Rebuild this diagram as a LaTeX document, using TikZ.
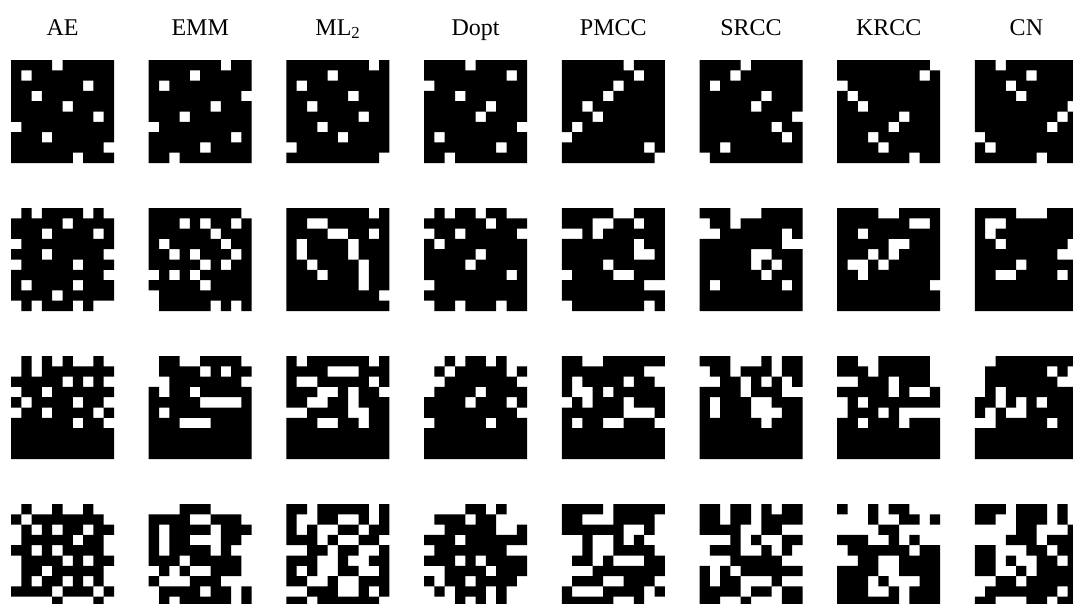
\documentclass[tikz,border=0pt]{standalone}
\usepackage{fontspec}
\setmainfont{Liberation Serif}
\newcount\pcol \newcount\prow
\def\pacc{}
\def\prowparse#1{\ifx#1\relax\else
  \if#1x\edef\pacc{\pacc (\the\pcol,-\the\prow) rectangle ++(1,-1)}\fi
  \advance\pcol by 1
  \expandafter\prowparse\fi}
\def\R#1{\pcol=0 \prowparse#1\relax\advance\prow by 1 }
\newcommand\pimg[3]{\prow=0 \def\pacc{}#3%
  \edef\ptmp{\noexpand\fill[pixblack,shift={(#1pt,-#2pt)},x=10.3pt,y=10.3pt] \pacc;}\ptmp}
\tikzset{pixblack/.style={fill=black}, ttl/.style={anchor=base, inner sep=0pt, font=\fontsize{24}{28}\selectfont}}
\begin{document}
\begin{tikzpicture}
\useasboundingbox (0,0) rectangle (1073pt,-603pt);
\fill[white] (0,0) rectangle (1073pt,-603pt);
\clip (0,0) rectangle (1073pt,-603pt);
% titles
\node[ttl] (tAE) at (62.5pt,-35pt) {AE};
\node[ttl] (tEMM) at (200.2pt,-35pt) {EMM};
\node[ttl] (tML) at (337.9pt,-35pt) {ML\textsubscript{2}};
\node[ttl] (tDopt) at (475.6pt,-35pt) {Dopt};
\node[ttl] (tPMCC) at (613.3pt,-35pt) {PMCC};
\node[ttl] (tSRCC) at (751pt,-35pt) {SRCC};
\node[ttl] (tKRCC) at (888.7pt,-35pt) {KRCC};
\node[ttl] (tCN) at (1026.4pt,-35pt) {CN};
% ---------------- row 1
\pimg{11}{60}{\R{xxxx.xxxxx}\R{x.xxxxxxxx}\R{xxxxxxx.xx}\R{xx.xxxxxxx}\R{xxxxx.xxxx}\R{xxxxxxxx.x}\R{.xxxxxxxxx}\R{xxx.xxxxxx}\R{xxxxxxxxx.}\R{xxxxxx.xxx}}
\pimg{148.7}{60}{\R{xxxxxxx.xx}\R{xxxx.xxxxx}\R{x.xxxxxxxx}\R{xxxxxxxxx.}\R{xxxxxx.xxx}\R{xxx.xxxxxx}\R{.xxxxxxxxx}\R{xxxxxxxx.x}\R{xxxxx.xxxx}\R{xx.xxxxxxx}}
\pimg{286.4}{60}{\R{xxxxxxxx.x}\R{xxxx.xxxxx}\R{x.xxxxxxxx}\R{xxxxxx.xxx}\R{xx.xxxxxxx}\R{xxxxxxx.xx}\R{xxx.xxxxxx}\R{xxxxx.xxxx}\R{.xxxxxxxxx}\R{xxxxxxxxx.}}
\pimg{424.1}{60}{\R{xxxx.xxxxx}\R{xxxxxxxx.x}\R{.xxxxxxxxx}\R{xxx.xxxxxx}\R{xxxxxx.xxx}\R{xxxxx.xxxx}\R{xxxxxxxxx.}\R{x.xxxxxxxx}\R{xxxxxxx.xx}\R{xx.xxxxxxx}}
\pimg{561.8}{60}{\R{xxxxxx.xxx}\R{xxxxxxx.xx}\R{xxxxx.xxxx}\R{xxxx.xxxxx}\R{xx.xxxxxxx}\R{xxx.xxxxxx}\R{x.xxxxxxxx}\R{.xxxxxxxxx}\R{xxxxxxxx.x}\R{xxxxxxxxx.}}
\pimg{699.5}{60}{\R{xxxx.xxxxx}\R{xxx.xxxxxx}\R{x.xxxxxxxx}\R{xxxxxx.xxx}\R{xxxxx.xxxx}\R{xxxxxxxxx.}\R{xxxxxxx.xx}\R{xxxxxxxx.x}\R{xx.xxxxxxx}\R{.xxxxxxxxx}}
\pimg{837.2}{60}{\R{xxxxxxxxx.}\R{xxxxxxxx.x}\R{.xxxxxxxxx}\R{x.xxxxxxxx}\R{xx.xxxxxxx}\R{xxxxxx.xxx}\R{xxxxx.xxxx}\R{xxx.xxxxxx}\R{xxxx.xxxxx}\R{xxxxxxx.xx}}
\pimg{974.9}{60}{\R{xx.xxxxxxx}\R{xxxxx.xxxx}\R{xxx.xxxxxx}\R{xxxx.xxxxx}\R{xxxxxxxxx.}\R{xxxxxxxx.x}\R{xxxxxxx.xx}\R{.xxxxxxxxx}\R{x.xxxxxxxx}\R{xxxxxx.xxx}}
% ---------------- row 2
\pimg{11}{208}{\R{.x.xxxx.x.}\R{xxxxx.xxxx}\R{xxx.xxxx.x}\R{.xxxxxxxxx}\R{xxx.xxxxx.}\R{.xxxxx.xxx}\R{xxxxxxxxx.}\R{x.xxxx.xxx}\R{xxxx.xxxxx}\R{.x.xxx.x..}}
\pimg{148.7}{208}{\R{xxxxxxxxx.}\R{xxx.x.xx.x}\R{xxxxxx.xxx}\R{x.xxxxx.xx}\R{xx.x.xxx.x}\R{xxxxx.x.xx}\R{.x.x.xxxxx}\R{xxxxx.xxxx}\R{.xxxxxxxxx}\R{.xxxxx.x.x}}
\pimg{286.4}{208}{\R{xxxxxxxx.x}\R{xx..xxxxxx}\R{xxxx..xx.x}\R{x.xxxx.xxx}\R{x.xxxx.xxx}\R{xx.xxxx.xx}\R{xxx.xxx.xx}\R{xxxxxxx.xx}\R{xxxxxxxxx.}\R{xxxxxxxxxx}}
\pimg{424.1}{208}{\R{.x.xx.xx..}\R{xxxxxx.xxx}\R{.xx.xxxxx.}\R{x.xxxxxxxx}\R{xxxxx.xxxx}\R{xxxx.xxxxx}\R{xxxxxxxx.x}\R{.xxxxxxxxx}\R{xxxxxxxxxx}\R{.xx.xxx.xx}}
\pimg{561.8}{208}{\R{xxxxx..xxx}\R{xxx..xx.xx}\R{..x.xxxxxx}\R{xxxxxxx.xx}\R{xxxxxxx..x}\R{xxxx.xxxxx}\R{.xxxx..xxx}\R{xxxxxxxx..}\R{xxxxxxxxxx}\R{.xxxxxxx.x}}
\pimg{699.5}{208}{\R{xxx...xxxx}\R{.xx.xxxxxx}\R{..xxxxxx.x}\R{xxxxxxxx..}\R{xxxxx..xxx}\R{xxxxx.x.xx}\R{xxxxxx.xxx}\R{x.xxxxxx.x}\R{xxxxxxxxxx}\R{xxxxxxxxxx}}
\pimg{837.2}{208}{\R{xxxx..xxxx}\R{xxxxxxx..x}\R{xx.xxxxxxx}\R{xxxxx..xxx}\R{xxx.x.xxxx}\R{x..x.xxxxx}\R{xx.xxxxxxx}\R{xxxxxxxxx.}\R{xxxxxxxxxx}\R{xxxxxxxxxx}}
\pimg{974.9}{208}{\R{xxxx...xxx}\R{x..xxxxxxx}\R{x.xxxxxxxx}\R{xx.xxxxxx.}\R{xxxxxxxx..}\R{xxxx.xxxxx}\R{xx..xxxx.x}\R{xxxxxxxxxx}\R{xxxxxxxxxx}\R{xxxxxxxxxx}}
% ---------------- row 3
\pimg{11}{356}{\R{.x.x.x..x.}\R{.x.xxxxxxx}\R{xxxxx.x.x.}\R{.xx.xxxxxx}\R{x.xxxx.xx.}\R{.xx.xxxx.x}\R{xxxxxx.xx.}\R{xxxxxxxxxx}\R{xxxxxxxxxx}\R{xxxxxxxxxx}}
\pimg{148.7}{356}{\R{.xx..xxxx.}\R{.xxxx.x.xx}\R{..xxxxxxx.}\R{x.xx.xxxxx}\R{xxxxx....x}\R{x.xxxxxxxx}\R{xxx...xxxx}\R{xxxxxxxxxx}\R{xxxxxxxxxx}\R{xxxxxxxxxx}}
\pimg{286.4}{356}{\R{x.xxxxxx.x}\R{xxxx...xxx}\R{x..xxxxx.x}\R{xxx..x.xx.}\R{xx..xx.xxx}\R{..xxxx..xx}\R{xxx..xx.xx}\R{xxxxxxxxxx}\R{xxxxxxxxxx}\R{xxxxxxxxxx}}
\pimg{424.1}{356}{\R{..x.xx.x..}\R{.x.xxxxx.x}\R{..xxxxxxx.}\R{.xxxx.xxxx}\R{xxxx.xxx.x}\R{xxxxxxxxx.}\R{.xxxxx.xxx}\R{xxxxxxxxxx}\R{xxxxxxxxxx}\R{xxxxxxxxxx}}
\pimg{561.8}{356}{\R{xx..xxxxxx}\R{xxxxxxxx..}\R{x.xxxx.xx.}\R{x..x.xxxxx}\R{.x.xxx.xxx}\R{xxxxxx...x}\R{x.xx..xxx.}\R{xxxxxxxxxx}\R{xxxxxxxxxx}\R{xxxxxxxxxx}}
\pimg{699.5}{356}{\R{xxx...x.xx}\R{.xx.xxx.xx}\R{..xx.x.x.x}\R{xxxx.xxx..}\R{x.xxx..xxx}\R{x.xxx...xx}\R{xxxxxx.xxx}\R{xxxxxxxxxx}\R{xxxxxxxxxx}\R{xxxxxxxxxx}}
\pimg{837.2}{356}{\R{xx..xxxxx.}\R{xxx.xxxxx.}\R{..xxx.xxx.}\R{xxxxx.x..x}\R{.x.xxxxxxx}\R{.xxx.x....}\R{xx.xxx.xxx}\R{xxxxxxxxxx}\R{xxxxxxxxxx}\R{xxxxxxxxxx}}
\pimg{974.9}{356}{\R{..xxxxxxxx}\R{.xxxxxx.x.}\R{.xxxxxxx..}\R{.x.xxxxxxx}\R{xx.x.x.xxx}\R{x.x..xxxxx}\R{..xxxxx.xx}\R{xxxxxxxxxx}\R{xxxxxxxxxx}\R{xxxxxxxxxx}}
% ---------------- row 4
\pimg{11}{504}{\R{.x..x..x..}\R{x.xxxxxxx.}\R{.x.x.xx.xx}\R{.xxxxx.xx.}\R{xx.x.xxxx.}\R{.xxxx.x.xx}\R{.xx.xxxxx.}\R{.x.xx.x.x.}\R{xxxx.xxx.x}\R{....x...x.}}
\pimg{148.7}{504}{\R{...xxx....}\R{xxxx..xxx.}\R{x.xxxx.xxx}\R{x.xx...xx.}\R{x.xxxx.x..}\R{xxx.xxxxx.}\R{.x.x..xxx.}\R{x...xxx...}\R{.xxxx.xx.x}\R{.x.xxxxx.x}}
\pimg{286.4}{504}{\R{xx.xxxxx.x}\R{x..xx..x.x}\R{x.x..xx.xx}\R{xxx.x..xx.}\R{..xx.xx..x}\R{xxx..x..xx}\R{x.x..xx..x}\R{xx..x..xxx}\R{..xxx..x.x}\R{xx.xxxxxx.}}
\pimg{424.1}{504}{\R{....xx.x..}\R{.xxx.xx...}\R{..xxxxx..x}\R{xxx.xxxxxx}\R{.xxxxxxx..}\R{xxx.x.xxxx}\R{..xxxx.xxx}\R{x.xx.xxxx.}\R{.x.xxx.x..}\R{...x.x.x..}}
\pimg{561.8}{504}{\R{xxxx.xxxxx}\R{xx...xxxx.}\R{xxxxxx..x.}\R{..x..x.x..}\R{..x..xxxx.}\R{.xx.x...xx}\R{...xxxxxxx}\R{.xxx..xxx.}\R{x...xxxx.x}\R{xxxxx..x..}}
\pimg{699.5}{504}{\R{xx.xx.x.xx}\R{xx.xx.xxxx}\R{xxxx..xx..}\R{...x.x..xx}\R{.xxx..x.x.}\R{...xxxxx..}\R{x.x.xxxxxx}\R{x.xx...x..}\R{xxxx.xx.xx}\R{xx..x...xx}}
\pimg{837.2}{504}{\R{x..x.xx...}\R{...x..xx.x}\R{....xx....}\R{xxx..x.x..}\R{.xxxxxx.xx}\R{..xx..xxxx}\R{xxxx..xxxx}\R{xxx.x...xx}\R{xxx..x.xxx}\R{xxxxxx.xxx}}
\pimg{974.9}{504}{\R{xxx.xxx.x.}\R{xx..xxx.x.}\R{....xx...x}\R{...xxx.xxx}\R{xx...xx.xx}\R{xx.x..xx.x}\R{xx..x.xxxx}\R{..xx.xxxxx}\R{.xxxxxxx.x}\R{xx...xx.xx}}
\end{tikzpicture}
\end{document}
